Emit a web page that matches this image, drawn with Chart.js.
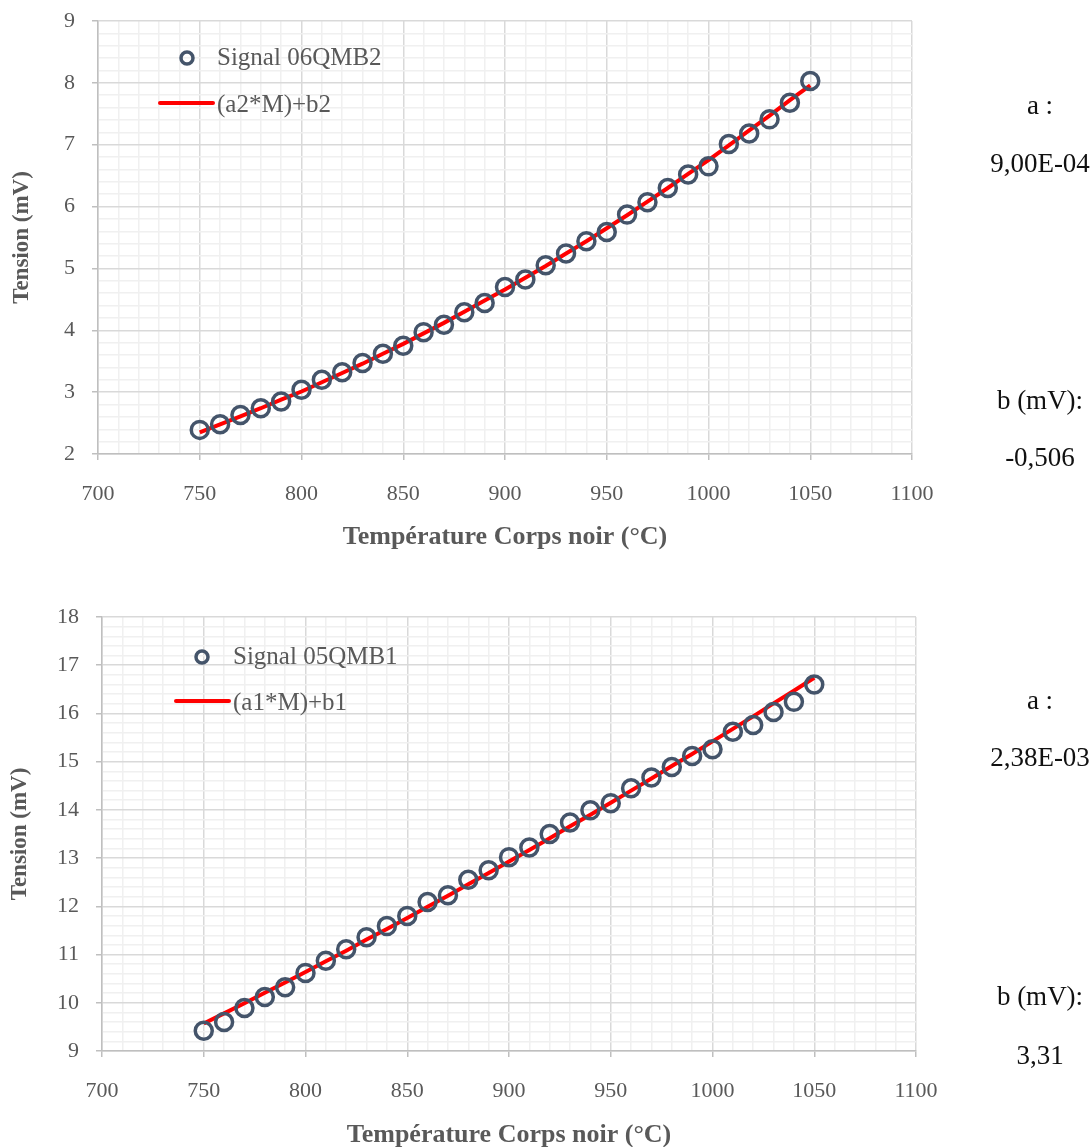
<!DOCTYPE html>
<html lang="fr">
<head>
<meta charset="utf-8">
<title>Tension en fonction de la température corps noir</title>
<script src="https://cdn.jsdelivr.net/npm/chart.js@4.4.1/dist/chart.umd.min.js"></script>
<style>
  html, body { margin: 0; padding: 0; background: #fff; overflow: hidden; }
  body { width: 1092px; height: 1147px; position: relative; }
  .box { position: absolute; left: 0; width: 1092px; height: 580px; }
  .coef { position: absolute; left: 1040px; transform: translateX(-50%);
          font: 27px "Liberation Serif", serif; line-height: 30px; color: #111; white-space: nowrap; }
</style>
</head>
<body>
<div class="box" style="top:-15px"><canvas id="graph06"></canvas></div>
<div class="box" style="top:580px"><canvas id="graph05"></canvas></div>

<div class="coef" style="top:90px">a :</div>
<div class="coef" style="top:148px">9,00E-04</div>
<div class="coef" style="top:385px">b (mV):</div>
<div class="coef" style="top:442px">-0,506</div>

<div class="coef" style="top:685px">a :</div>
<div class="coef" style="top:742px">2,38E-03</div>
<div class="coef" style="top:981px">b (mV):</div>
<div class="coef" style="top:1040px">3,31</div>

<script>
// Températures corps noir (°C)
const temperatures = [750, 760, 770, 780, 790, 800, 810, 820, 830, 840, 850,
  860, 870, 880, 890, 900, 910, 920, 930, 940, 950, 960, 970, 980, 990, 1000,
  1010, 1020, 1030, 1040, 1050];

// Signal 06QMB2 (mV) et droite (a2*M)+b2
const signal06 = [2.39, 2.48, 2.63, 2.74, 2.85, 3.04, 3.20, 3.32, 3.47, 3.62, 3.75,
  3.97, 4.09, 4.29, 4.44, 4.70, 4.82, 5.05, 5.24, 5.44, 5.59, 5.87, 6.07, 6.30, 6.52, 6.65,
  7.01, 7.18, 7.41, 7.68, 8.03];
const fit06 = [2.35, 2.48, 2.61, 2.74, 2.88, 3.01, 3.16, 3.31, 3.46, 3.62, 3.78,
  3.95, 4.12, 4.30, 4.48, 4.66, 4.85, 5.04, 5.24, 5.44, 5.65, 5.86, 6.08, 6.30, 6.53, 6.75,
  6.99, 7.23, 7.47, 7.72, 7.96];

// Signal 05QMB1 (mV) et droite (a1*M)+b1
const signal05 = [9.42, 9.60, 9.89, 10.12, 10.32, 10.62, 10.87, 11.11, 11.36, 11.59, 11.80,
  12.09, 12.23, 12.55, 12.75, 13.02, 13.22, 13.50, 13.74, 13.99, 14.14, 14.45, 14.67, 14.89, 15.12, 15.26,
  15.62, 15.76, 16.03, 16.24, 16.60];
const fit05 = [9.57, 9.78, 9.99, 10.21, 10.42, 10.64, 10.86, 11.08, 11.31, 11.53, 11.76,
  11.99, 12.22, 12.46, 12.69, 12.93, 13.17, 13.41, 13.66, 13.90, 14.15, 14.40, 14.65, 14.91, 15.16, 15.42,
  15.68, 15.94, 16.21, 16.47, 16.74];

const slate = '#44546a';
const grey = '#595959';
const serif = 'Liberation Serif';

function isMajor(v, step) {
  const q = v / step;
  return Math.abs(q - Math.round(q)) < 1e-6;
}

function pts(xs, ys) {
  return xs.map((x, i) => ({ x: x, y: ys[i] }));
}

// légende dessinée dans la zone de tracé
const insideLegend = {
  id: 'insideLegend',
  afterDatasetsDraw(chart, args, opts) {
    const ctx = chart.ctx;
    const sig = chart.data.datasets[0];
    const fit = chart.data.datasets[1];
    ctx.save();
    ctx.beginPath();
    ctx.arc(opts.markerX, opts.row1, 6, 0, Math.PI * 2);
    ctx.lineWidth = 3.5;
    ctx.strokeStyle = sig.borderColor;
    ctx.stroke();

    ctx.beginPath();
    ctx.moveTo(opts.lineX0, opts.row2);
    ctx.lineTo(opts.lineX1, opts.row2);
    ctx.lineWidth = 4;
    ctx.lineCap = 'round';
    ctx.strokeStyle = fit.borderColor;
    ctx.stroke();

    ctx.fillStyle = grey;
    ctx.font = '25px "' + serif + '"';
    ctx.textBaseline = 'middle';
    ctx.fillText(sig.label, opts.textX, opts.row1);
    ctx.fillText(fit.label, opts.textX, opts.row2 + 2);
    ctx.restore();
  }
};

function buildChart(id, o) {
  const axisBorder = { color: '#bfbfbf', width: 1.5 };
  return new Chart(document.getElementById(id), {
    type: 'scatter',
    data: {
      datasets: [
        {
          label: o.signalLabel,
          data: pts(temperatures, o.signal),
          borderColor: slate,
          backgroundColor: 'rgba(0,0,0,0)',
          pointBackgroundColor: 'rgba(0,0,0,0)',
          pointRadius: 8.5,
          pointHoverRadius: 8.5,
          borderWidth: 3.5,
          pointBorderWidth: 3.5
        },
        {
          label: o.fitLabel,
          data: pts(temperatures, o.fit),
          showLine: true,
          borderColor: '#ff0000',
          borderWidth: 4,
          pointRadius: 0,
          pointHoverRadius: 0,
          fill: false
        }
      ]
    },
    options: {
      responsive: true,
      maintainAspectRatio: false,
      animation: false,
      events: [],
      layout: { padding: { left: 0, top: o.top, right: 1092 - o.right, bottom: 0 } },
      plugins: {
        legend: { display: false },
        tooltip: { enabled: false },
        insideLegend: o.legend
      },
      scales: {
        x: {
          type: 'linear',
          min: 700,
          max: 1100,
          afterFit: s => { s.height = o.xAxisHeight; },
          border: axisBorder,
          grid: {
            color: c => isMajor(c.tick.value, 50) ? '#d9d9d9' : '#f0f0f0',
            tickColor: c => isMajor(c.tick.value, 50) ? '#bfbfbf' : 'rgba(0,0,0,0)',
            lineWidth: 1.5,
            tickLength: 6
          },
          ticks: {
            stepSize: 10,
            autoSkip: false,
            maxRotation: 0,
            padding: 21,
            color: grey,
            font: { family: serif, size: 22 },
            callback: v => isMajor(v, 50) ? String(v) : ''
          },
          title: {
            display: true,
            text: 'Température Corps noir (°C)',
            color: grey,
            font: { family: serif, size: 26, weight: 'bold' },
            padding: { top: 0, bottom: o.xTitlePad }
          }
        },
        y: {
          min: o.yMin,
          max: o.yMax,
          afterFit: s => { s.width = o.left; },
          border: axisBorder,
          grid: {
            color: c => isMajor(c.tick.value, 1) ? '#d9d9d9' : '#f0f0f0',
            tickColor: c => isMajor(c.tick.value, 1) ? '#bfbfbf' : 'rgba(0,0,0,0)',
            lineWidth: 1.5,
            tickLength: 6
          },
          ticks: {
            stepSize: 0.2,
            autoSkip: false,
            padding: 17,
            color: grey,
            font: { family: serif, size: 22 },
            callback: v => isMajor(v, 1) ? String(Math.round(v)) : ''
          },
          title: {
            display: true,
            text: 'Tension (mV)',
            color: grey,
            font: { family: serif, size: 23, weight: 'bold' },
            padding: { top: o.yTitlePad, bottom: 0 }
          }
        }
      }
    },
    plugins: [insideLegend]
  });
}

// graphe du haut : la boîte commence à -15 px, d'où les coordonnées locales décalées
buildChart('graph06', {
  signalLabel: 'Signal 06QMB2',
  fitLabel: '(a2*M)+b2',
  signal: signal06,
  fit: fit06,
  yMin: 2, yMax: 9,
  top: 36, left: 98, right: 912,
  xAxisHeight: 111, xTitlePad: 12, yTitlePad: 8,
  legend: { markerX: 187, row1: 73, lineX0: 160, lineX1: 213, row2: 118, textX: 217 }
});

buildChart('graph05', {
  signalLabel: 'Signal 05QMB1',
  fitLabel: '(a1*M)+b1',
  signal: signal05,
  fit: fit05,
  yMin: 9, yMax: 18,
  top: 37, left: 102, right: 916,
  xAxisHeight: 109, xTitlePad: 9, yTitlePad: 6,
  legend: { markerX: 202, row1: 77, lineX0: 176, lineX1: 229, row2: 121, textX: 233 }
});
</script>
</body>
</html>
